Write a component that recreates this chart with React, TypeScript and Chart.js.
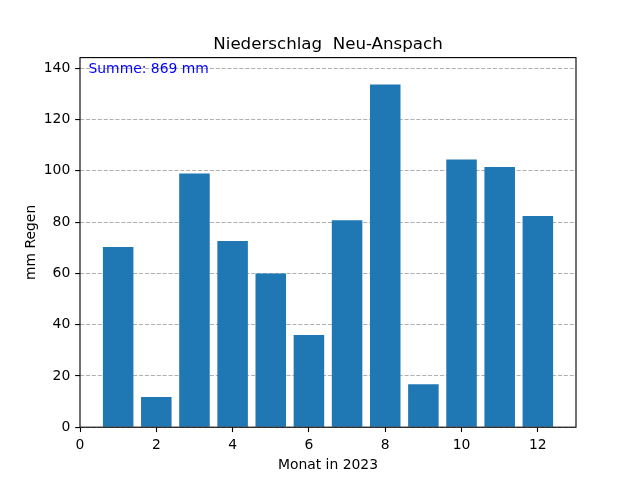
import React, { useEffect, useRef } from "react";
import { Chart, registerables } from "chart.js";

Chart.register(...registerables);

const months = [1, 2, 3, 4, 5, 6, 7, 8, 9, 10, 11, 12];
const rainfall = [70.3, 11.8, 99.0, 72.6, 60.0, 36.0, 80.7, 133.7, 16.8, 104.4, 101.5, 82.4];
const xTickValues = [0, 2, 4, 6, 8, 10, 12];
const yTickValues = [0, 20, 40, 60, 80, 100, 120, 140];
const chartTitle = "Niederschlag  Neu-Anspach";
const xAxisLabel = "Monat in 2023";
const yAxisLabel = "mm Regen";

const FONT = "'DejaVu Sans', sans-serif";
const TICK_PX = 13.9;
const TICK_LEN = 4.86;

export default function App() {
  const ref = useRef<HTMLCanvasElement | null>(null);

  useEffect(() => {
    document.body.style.margin = "0";
    const total = Math.round(rainfall.reduce((a, b) => a + b, 0));
    const textPlugin = {
      id: "mplText",
      afterDraw(chart: any) {
        const { ctx, chartArea } = chart;
        const { left, right, top, bottom } = chartArea;
        ctx.save();
        ctx.strokeStyle = "#000";
        ctx.lineWidth = 1.11;
        ctx.strokeRect(left, top, right - left, bottom - top);
        const cx = (left + right) / 2;
        ctx.fillStyle = "#000";
        ctx.font = `16.67px ${FONT}`;
        ctx.textAlign = "center";
        ctx.textBaseline = "alphabetic";
        ctx.fillText(chartTitle, cx, top - 8.3);
        ctx.font = `${TICK_PX}px ${FONT}`;
        ctx.fillText(xAxisLabel, cx, 469);
        ctx.save();
        ctx.translate(35, (top + bottom) / 2);
        ctx.rotate(-Math.PI / 2);
        ctx.textAlign = "center";
        ctx.fillText(yAxisLabel, 0, 0);
        ctx.restore();
        ctx.fillStyle = "#0000ff";
        ctx.textAlign = "left";
        ctx.fillText(`Summe: ${total} mm`, 88.5, 73.3);
        ctx.restore();
      },
    };

    const chart = new Chart(ref.current as HTMLCanvasElement, {
      type: "bar",
      data: {
        datasets: [
          {
            data: months.map((m, i) => ({ x: m, y: rainfall[i] })),
            backgroundColor: "#1f77b4",
            borderWidth: 0,
            barPercentage: 0.8,
            categoryPercentage: 1,
          },
        ],
      },
      options: {
        animation: false,
        responsive: true,
        maintainAspectRatio: false,
        devicePixelRatio: 1,
        layout: { padding: { top: 57.6, right: 64, bottom: 0, left: 0 } },
        plugins: {
          legend: { display: false },
          title: { display: false },
          tooltip: { enabled: false },
        },
        scales: {
          x: {
            type: "linear",
            min: 0,
            max: 13,
            offset: false,
            afterFit: (s: any) => {
              s.height = 52.8;
            },
            afterBuildTicks: (s: any) => {
              s.ticks = xTickValues.map((v) => ({ value: v }));
            },
            grid: {
              offset: false,
              drawOnChartArea: false,
              drawTicks: true,
              tickLength: TICK_LEN,
              tickColor: "#000",
              tickWidth: 1.11,
            },
            border: { display: false },
            ticks: {
              color: "#000",
              font: { family: FONT, size: TICK_PX },
              padding: 4.86,
              maxRotation: 0,
              autoSkip: false,
            },
          },
          y: {
            type: "linear",
            min: 0,
            max: 144.2,
            z: 1,
            afterFit: (s: any) => {
              s.width = 80;
            },
            afterBuildTicks: (s: any) => {
              s.ticks = yTickValues.map((v) => ({ value: v }));
            },
            grid: {
              color: "#b0b0b0",
              lineWidth: 1.11,
              drawTicks: true,
              tickLength: TICK_LEN,
              tickColor: "#000",
              tickWidth: 1.11,
              tickBorderDash: [],
            },
            border: { display: false, dash: [4.1, 1.8] },
            ticks: {
              color: "#000",
              font: { family: FONT, size: TICK_PX },
              padding: 4.86,
              autoSkip: false,
            },
          },
        },
      } as any,
      plugins: [textPlugin],
    });
    return () => chart.destroy();
  }, []);

  return (
    <div style={{ position: "absolute", left: 0, top: 0, width: 640, height: 480 }}>
      <canvas ref={ref} />
    </div>
  );
}
